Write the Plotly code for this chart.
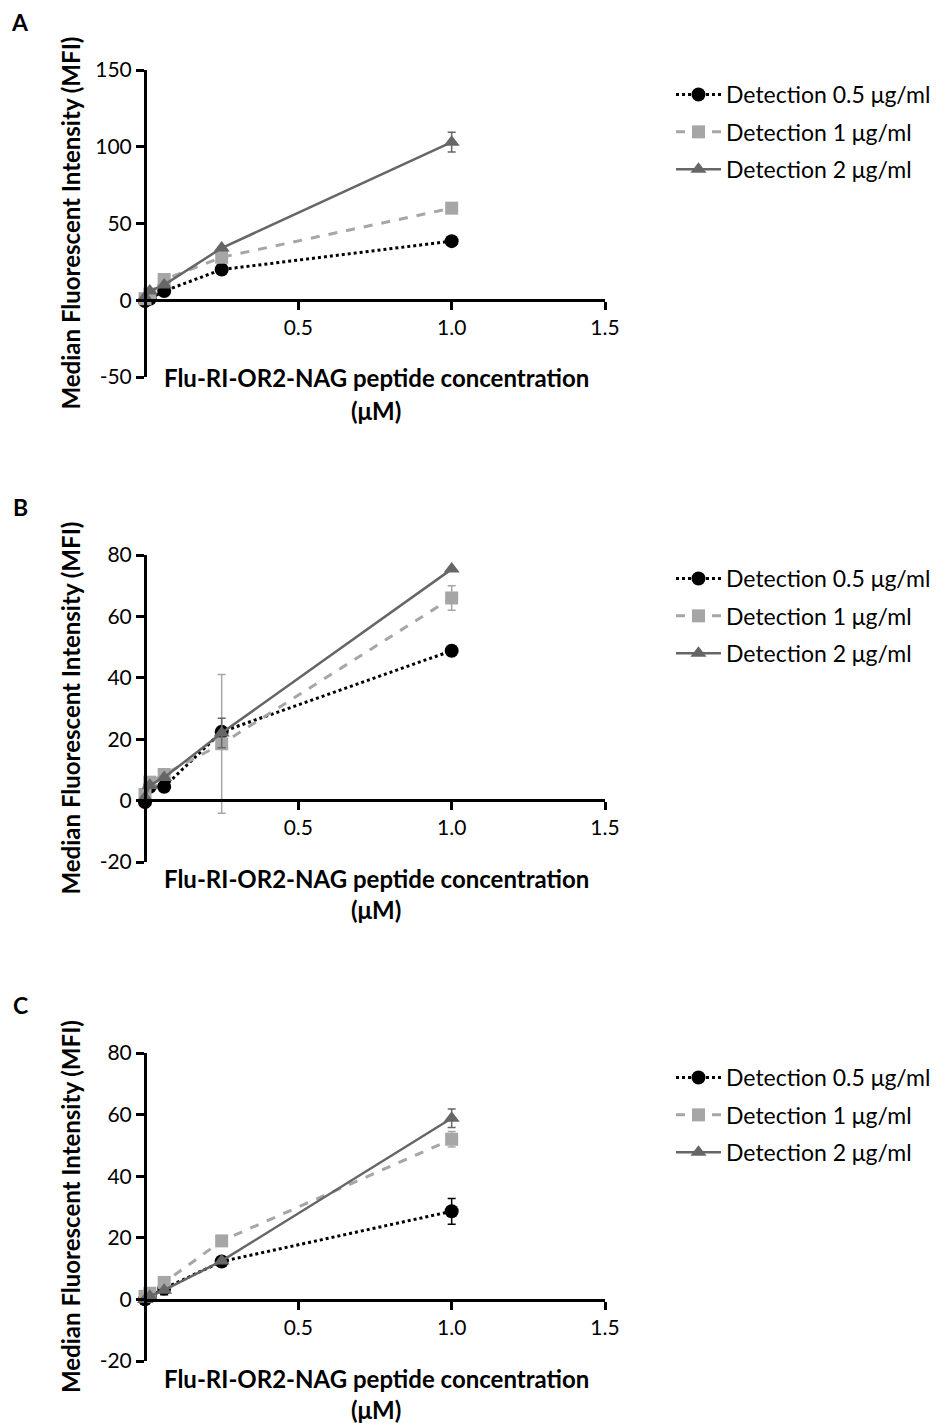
import plotly.graph_objects as go

W, H = 946, 1423
FONT = "Lato"

conc = [0, 0.015625, 0.0625, 0.25, 1.0]
series_names = ["Detection 0.5 μg/ml", "Detection 1 μg/ml", "Detection 2 μg/ml"]

# Panel A
a_low = [-0.5, 1.0, 6.0, 20.0, 38.5]
a_mid = [1.0, 4.0, 13.5, 28.0, 60.0]
a_high = [2.0, 6.0, 10.0, 34.0, 103.0]
a_low_err = [0, 0, 0, 0, 0]
a_mid_err = [0, 0, 0, 0, 0]
a_high_err = [0, 0, 0, 0, 6.5]

# Panel B
b_low = [-0.5, 4.5, 4.5, 22.4, 48.8]
b_mid = [2.0, 6.0, 8.5, 18.5, 66.0]
b_high = [1.0, 5.0, 7.5, 22.0, 75.4]
b_low_err = [0, 0, 0, 0, 0]
b_mid_err = [0, 0, 0, 22.6, 4.0]
b_high_err = [0, 0, 0, 4.8, 0]

# Panel C
c_low = [0.0, 1.0, 3.5, 12.3, 28.6]
c_mid = [1.0, 2.0, 5.5, 19.0, 52.0]
c_high = [0.0, 1.0, 3.0, 12.5, 58.8]
c_low_err = [0, 0, 2.0, 1.5, 4.2]
c_mid_err = [0, 0, 1.0, 0, 2.5]
c_high_err = [0, 0, 0, 0, 3.0]

y_ranges = [[-50, 150], [-20, 80], [-20, 80]]
y_ticks = [[-50, 0, 50, 100, 150], [-20, 0, 20, 40, 60, 80], [-20, 0, 20, 40, 60, 80]]
y_ticktext = [["-50", "0", "50", "100", "150"], ["-20", "0", "20", "40", "60", "80"],
              ["-20", "0", "20", "40", "60", "80"]]
x_ticks = [0.5, 1.0, 1.5]
x_ticktext = ["0.5", "1.0", "1.5"]
panel_letters = ["A", "B", "C"]
x_title = "Flu-RI-OR2-NAG peptide concentration"
y_title = "Median Fluorescent Intensity (MFI)"

# layout geometry (pixels)
x_left, x_right = 145, 605
y_pix = [(70, 377), (555, 862), (1053, 1361)]  # top, bottom of y axes
zero_pix = [300, 800, 1300]
letter_pix = [22, 507, 1005]
xtitle_pix = [[378, 410], [878, 910], [1378, 1409]]
legend_top = [73, 557, 1056]

colors = ["#000000", "#a6a6a6", "#666666"]
dashes = ["dot", "dash", "solid"]
symbols = ["circle", "square", "triangle-up"]
msizes = [14, 13, 14]
lwidths = [3, 3, 2.5]

panels = [
    ([a_low, a_mid, a_high], [a_low_err, a_mid_err, a_high_err]),
    ([b_low, b_mid, b_high], [b_low_err, b_mid_err, b_high_err]),
    ([c_low, c_mid, c_high], [c_low_err, c_mid_err, c_high_err]),
]

fig = go.Figure()
annotations = []
layout = {}

def py(p):
    return 1 - p / H

for i, (vals, errs) in enumerate(panels):
    sfx = "" if i == 0 else str(i + 1)
    legname = "legend" + sfx
    for k in range(3):
        fig.add_trace(go.Scatter(
            x=conc, y=vals[k],
            xaxis="x" + sfx, yaxis="y" + sfx,
            mode="lines+markers",
            name=series_names[k],
            legend=legname,
            legendgroup=f"g{i}{k}",
            line=dict(color=colors[k], dash=dashes[k], width=lwidths[k]),
            marker=dict(color=colors[k], symbol=symbols[k], size=msizes[k]),
            error_y=dict(type="data", array=errs[k], visible=True,
                         color=colors[k], thickness=1.5, width=4),
            cliponaxis=False,
        ))
    top, bot = y_pix[i]
    layout["xaxis" + sfx] = dict(
        domain=[x_left / W, x_right / W], range=[0, 1.5],
        anchor="free", position=py(zero_pix[i]),
        tickvals=x_ticks, ticktext=x_ticktext,
        ticks="outside", ticklen=8, tickwidth=3, tickcolor="black",
        showline=True, linecolor="black", linewidth=3,
        showgrid=False, zeroline=False,
        tickfont=dict(family=FONT, size=21, color="black"),
        fixedrange=True,
    )
    layout["yaxis" + sfx] = dict(
        domain=[py(bot), py(top)], range=y_ranges[i],
        anchor="free", position=x_left / W,
        tickvals=y_ticks[i], ticktext=y_ticktext[i],
        ticks="outside", ticklen=8, tickwidth=3, tickcolor="black",
        showline=True, linecolor="black", linewidth=3,
        showgrid=False, zeroline=False,
        tickfont=dict(family=FONT, size=21, color="black"),
        fixedrange=True,
    )
    layout[legname] = dict(
        x=671 / W, y=py(legend_top[i]), xanchor="left", yanchor="top",
        font=dict(family=FONT, size=23, color="black"),
        bgcolor="rgba(0,0,0,0)", traceorder="grouped", tracegroupgap=4.5,
        itemwidth=45,
    )
    annotations.append(dict(
        text="<b>" + panel_letters[i] + "</b>", x=20 / W, y=py(letter_pix[i]),
        xref="paper", yref="paper", showarrow=False,
        xanchor="center", yanchor="middle",
        font=dict(family=FONT, size=23, color="black"),
    ))
    annotations.append(dict(
        text="<b>" + x_title + "</b>", x=376 / W, y=py(xtitle_pix[i][0]),
        xref="paper", yref="paper", showarrow=False,
        xanchor="center", yanchor="middle",
        font=dict(family=FONT, size=24, color="black"),
    ))
    annotations.append(dict(
        text="<b>(μM)</b>", x=376 / W, y=py(xtitle_pix[i][1]),
        xref="paper", yref="paper", showarrow=False,
        xanchor="center", yanchor="middle",
        font=dict(family=FONT, size=24, color="black"),
    ))
    annotations.append(dict(
        text="<b>" + y_title + "</b>", x=70 / W, y=py((top + bot) / 2),
        xref="paper", yref="paper", showarrow=False, textangle=-90,
        xanchor="center", yanchor="middle",
        font=dict(family=FONT, size=24, color="black"),
    ))

fig.update_layout(
    width=W, height=H,
    margin=dict(l=0, r=0, t=0, b=0, autoexpand=False),
    paper_bgcolor="white", plot_bgcolor="white",
    showlegend=True,
    annotations=annotations,
    **layout,
)

fig.write_html("out.html")
